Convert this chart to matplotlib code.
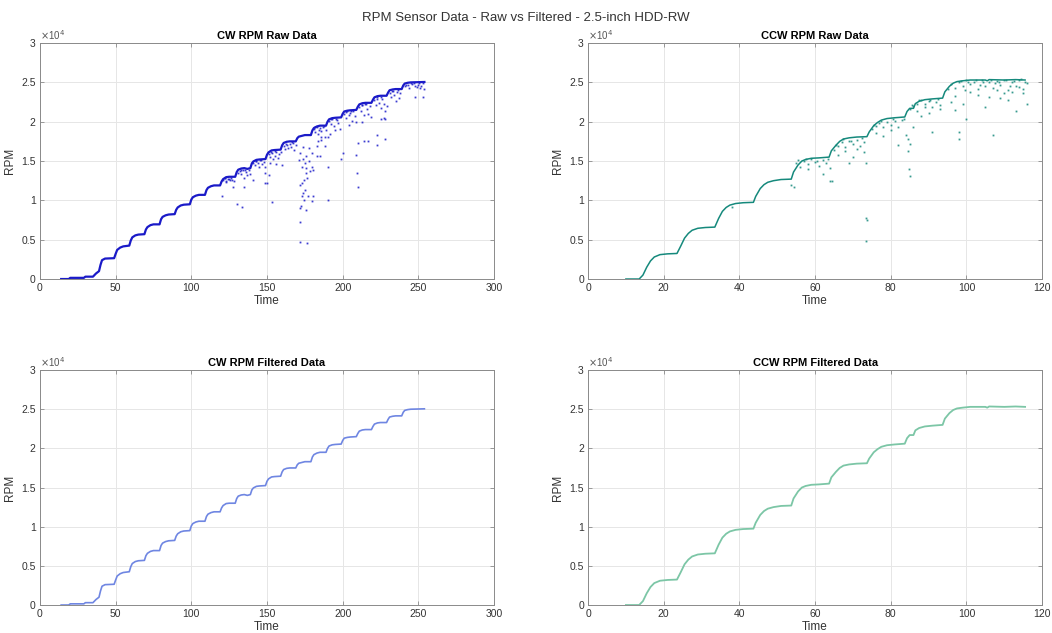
import matplotlib
matplotlib.use('Agg')
import matplotlib.pyplot as plt
import numpy as np

plt.rcParams['font.family'] = ['Liberation Sans', 'DejaVu Sans']

# CW staircase vertices (time, rpm)
cw_time = [14, 19, 20, 29, 30, 35, 37, 39, 40, 41, 43, 49,
           50, 51, 53, 55, 59, 60, 61, 63, 65, 69, 70, 71, 73, 75, 79,
           80, 81, 83, 85, 89, 90, 91, 93, 95, 99, 100, 101, 103, 105, 109,
           110, 111, 113, 115, 119, 120, 121, 123, 125, 129,
           130, 131, 133, 135, 137, 139, 140, 141, 143, 145, 149,
           150, 151, 153, 155, 159, 160, 161, 163, 165, 169,
           170, 171, 173, 175, 179, 180, 181, 183, 185, 189,
           190, 191, 193, 195, 199, 200, 201, 203, 205, 209,
           210, 211, 213, 215, 219, 220, 221, 223, 225, 229,
           230, 231, 233, 235, 239, 240, 241, 243, 245, 254]
cw_rpm = [0, 0, 150, 150, 300, 300, 700, 1000, 1800, 2400, 2600, 2650,
          3200, 3700, 4000, 4150, 4250, 4900, 5300, 5550, 5650, 5700, 6300, 6600, 6850, 6950, 6950,
          7600, 7900, 8100, 8200, 8250, 8800, 9100, 9350, 9450, 9500, 10100, 10400, 10600, 10700, 10700,
          11300, 11600, 11800, 11900, 11900, 12400, 12700, 12950, 13000, 13000,
          13600, 13900, 14050, 14100, 14000, 14100, 14700, 14950, 15150, 15200, 15250,
          15800, 16100, 16350, 16400, 16450, 17000, 17300, 17450, 17500, 17500,
          17900, 18100, 18200, 18300, 18300, 18900, 19200, 19400, 19500, 19500,
          20000, 20300, 20450, 20500, 20550, 21000, 21300, 21400, 21450, 21500,
          21900, 22200, 22350, 22400, 22400, 22800, 23100, 23250, 23300, 23300,
          23700, 24000, 24100, 24150, 24150, 24600, 24850, 24950, 25000, 25050]

# CW raw readings away from the staircase
cw_out_t = [120, 130, 133.7, 127.8, 135, 123, 125.5, 141, 148.7, 150, 151, 153, 149, 160,
            172, 172, 176.6, 172, 172.5, 176, 179.5, 180.6, 177, 173, 174, 175, 173, 174.5, 176,
            178.5, 180.6, 179.5, 173, 175, 172, 176, 179.5, 182.8, 185, 182.8, 186, 188, 190.5,
            191.6, 190, 190, 199, 200, 209, 209.7, 210, 210.4, 214, 217, 222.5, 222.5, 228, 225,
            227, 228, 248,
            121, 122, 123, 124, 126, 127, 128,
            131, 132, 133, 134, 136, 137, 138, 139, 135,
            141, 142, 143, 144, 146, 147, 148, 149, 145,
            151, 152, 153, 154, 155, 156, 157, 158, 159, 152, 156,
            161, 162, 163, 164, 165, 166, 167, 168, 169,
            181, 182, 183, 184, 185, 186, 187, 188, 189, 184, 186,
            191, 192, 193, 194, 196, 197, 198, 195,
            201, 202, 203, 204, 205, 206, 207, 208, 209, 204,
            211, 212, 213, 214, 215, 216, 217, 218, 219, 213,
            221, 222, 223, 224, 225, 226, 227, 228, 229,
            231, 232, 233, 234, 236, 237, 238, 235,
            241, 243, 244, 246, 248, 250, 251, 252, 253, 254, 249, 253,
            122.5, 125, 132.5, 135.5, 142.5, 145.5, 152.5, 155.5, 162.5, 166.5, 171, 174,
            177.5, 182, 184.5, 187.5, 192.5, 195.5, 202.5, 205.5, 212.5, 215.5, 222.5, 225.5,
            232.5, 236.5, 242, 245, 247, 250.5, 171.5, 173.5, 175.5, 178, 176.5, 174.5]
cw_out_rpm = [10500, 9600, 9100, 11650, 11650, 12300, 12600, 12600, 12200, 12200, 13260, 9800, 13500, 14500,
              7200, 4650, 4600, 9000, 9300, 8800, 9900, 10500, 10500, 10500, 10900, 11350, 12200, 12600, 13500,
              13700, 13900, 14300, 14300, 14700, 16000, 15600, 16000, 15600, 15600, 16900, 17700, 16900, 18100,
              18500, 14300, 10100, 15200, 16000, 15800, 13500, 11700, 17300, 17500, 17500, 18300, 17100, 17800, 20300,
              20500, 20300, 23200,
              12600, 12800, 12500, 12700, 12900, 12600, 12400,
              13500, 13700, 13300, 13800, 13600, 13200, 13900, 13400, 12800,
              14800, 14500, 15000, 14700, 15100, 14600, 14900, 14300, 14200,
              15900, 15500, 16000, 15200, 15700, 16200, 15400, 15900, 16200, 14800, 14600,
              16900, 16500, 17100, 16700, 17200, 16800, 17300, 16400, 17100,
              19100, 18700, 19300, 18500, 19200, 18800, 19300, 18100, 19000, 17500, 18100,
              20100, 19700, 20300, 19500, 20200, 19800, 19100, 18900,
              21000, 20500, 21300, 20800, 21100, 20100, 21300, 20700, 19900, 19600,
              21900, 21300, 22100, 20800, 22200, 21600, 21000, 22000, 20600, 19900,
              22700, 22100, 23100, 22400, 21800, 22900, 22300, 21300, 22000,
              23600, 23200, 23900, 23400, 23800, 23000, 23600, 22600,
              24500, 24700, 24300, 24800, 24500, 24700, 24300, 24600, 24900, 24200, 24400, 23200,
              12800, 12700, 13800, 13900, 15000, 15100, 16100, 16300, 17200, 17400, 15100, 16800,
              16600, 19300, 19000, 19400, 20300, 20400, 21200, 21400, 22100, 22300, 22900, 23200,
              23900, 24000, 24700, 24900, 24900, 24900, 12000, 15200, 14100, 15000, 12900, 10000]

# CCW staircase vertices (time, rpm)
ccw_time = [10, 13.5, 14.5, 15.5, 16.5, 17.5, 19, 21, 23.5,
            24.5, 25.5, 26.5, 27.5, 29, 31, 33.5,
            34.5, 35.5, 36.5, 37.5, 39, 41, 43.7,
            44.3, 45.5, 46.5, 47.5, 49, 51, 53.7,
            54.3, 55.5, 56.5, 57.5, 59, 61, 63.7,
            64.3, 65.5, 66.5, 67.5, 69, 71, 73.7,
            74.3, 75.5, 76.5, 77.5, 79, 81, 83.7,
            84.3, 85, 86, 86.5, 87.5, 89, 91, 93.7,
            94.3, 95.5, 96.5, 97.5, 99, 101, 105, 105.5, 106, 110, 113, 115.5]
ccw_rpm = [0, 0, 500, 1500, 2300, 2800, 3100, 3200, 3250,
           4200, 5200, 5800, 6200, 6450, 6550, 6600,
           7700, 8600, 9100, 9400, 9600, 9700, 9750,
           10500, 11500, 12000, 12300, 12500, 12650, 12700,
           13600, 14500, 15000, 15200, 15350, 15400, 15500,
           16300, 17000, 17500, 17800, 17950, 18050, 18100,
           18700, 19500, 19900, 20200, 20400, 20500, 20600,
           21300, 21700, 21700, 22300, 22600, 22800, 22900, 23000,
           23800, 24500, 24900, 25100, 25200, 25300, 25300, 25200, 25350, 25300, 25350, 25300]

# CCW raw readings away from the staircase
ccw_out_t = [38, 55, 56, 57, 58, 59, 60, 61, 62, 63, 64, 62, 64, 53.7, 54.5, 58, 64.5,
             65, 66, 67, 68, 69, 70, 71, 72, 73, 66, 68, 70, 71, 73, 73.5, 69, 73.5, 73.6, 73.5,
             75, 76, 77, 78, 79, 80, 81, 82, 83, 76, 78, 80, 82, 84, 84.5, 84.5, 84.7, 85, 85, 86,
             85, 86, 87, 88, 89, 90, 91, 92, 93, 87, 88, 89, 91, 90, 93,
             96, 97, 98, 99, 100, 101, 102, 103, 104, 105, 106, 107, 108, 109, 110, 111, 112,
             113, 114, 115, 116, 116, 99, 98, 98, 100, 103, 105, 107, 109, 111, 113, 97, 101,
             106, 108, 110, 112, 114, 115, 96, 97, 95,
             55.5, 57.5, 60.5, 63.5, 65.5, 67.5, 69.5, 72.5, 75.5, 77.5, 80.5, 83.5,
             85.5, 87.5, 90.5, 92.5, 98.5, 100.5, 102.5, 104.5, 106.5, 108.5, 110.5, 112.5,
             114.5, 115.5, 99.5, 103.5, 107.5, 111.5]
ccw_out_rpm = [9150, 14800, 14200, 15000, 14600, 15200, 14900, 14400, 15100, 14700, 14100, 13400, 12400, 12000, 11700, 14000, 12500,
               16400, 16900, 17400, 16800, 17600, 17200, 17700, 16900, 17400, 15800, 16300, 15500, 16500, 16100, 14700, 14700, 7750, 7550, 4800,
               19100, 19500, 19800, 19300, 20000, 19600, 20100, 19300, 20200, 18600, 18200, 19000, 17000, 18300, 17800, 16300, 14000, 13100, 17200, 19300,
               21600, 22000, 22300, 22700, 22200, 22600, 21900, 22500, 21600, 21400, 20700, 21900, 18700, 21100, 22100,
               24800, 24300, 25000, 24500, 25300, 24800, 25100, 24200, 25300, 24600, 25100, 24300, 25200, 24700, 25300, 24000, 25100,
               24500, 25300, 24200, 24900, 22300, 22200, 18700, 17800, 20300, 23400, 21900, 18300, 23000, 22700, 21300, 21500, 23800,
               23200, 24000, 23600, 23800, 24400, 23700, 22500, 23300, 24200,
               15100, 15300, 15000, 15200, 17100, 17800, 17500, 17900, 19600, 20100, 20300, 20400,
               22100, 22800, 22700, 22900, 25200, 25100, 25300, 25000, 25300, 25100, 25300, 25200,
               25400, 25100, 24000, 24700, 24900, 24600]

ytick_vals = [0, 5000, 10000, 15000, 20000, 25000, 30000]
ytick_labels = ['0', '0.5', '1', '1.5', '2', '2.5', '3']

cw_raw_color = '#1a1ac8'
ccw_raw_color = '#15897c'
cw_filt_color = '#6f86e2'
ccw_filt_color = '#7cc6a6'
text_color = '#333333'


def style_axes(ax, title, xmax, xstep):
    ax.set_xlim(0, xmax)
    ax.set_ylim(0, 30000)
    ax.set_xticks(np.arange(0, xmax + 1, xstep))
    ax.set_yticks(ytick_vals)
    ax.set_yticklabels(ytick_labels)
    ax.grid(True, color='#e6e6e6', linewidth=0.7)
    ax.set_axisbelow(True)
    ax.tick_params(direction='in', length=3, width=0.6, color='#8a8a8a',
                   labelcolor=text_color, labelsize=7.5, top=True, right=True, pad=3)
    for sp in ax.spines.values():
        sp.set_color('#8a8a8a')
        sp.set_linewidth(0.7)
    ax.set_title(title, fontsize=8, fontweight='bold', pad=3)
    ax.set_xlabel('Time', fontsize=8.5, color=text_color, labelpad=1)
    ax.set_ylabel('RPM', fontsize=8.5, color=text_color, labelpad=4)
    ax.text(0.0, 1.005, r'$\times$10$^4$', transform=ax.transAxes, fontsize=7,
            color='#555555', ha='left', va='bottom')


fig = plt.figure(figsize=(10.52, 6.33), dpi=100)
ax1 = fig.add_axes([0.038, 0.5592, 0.4316, 0.3728])
ax2 = fig.add_axes([0.559, 0.5592, 0.4316, 0.3728])
ax3 = fig.add_axes([0.038, 0.0442, 0.4316, 0.3712])
ax4 = fig.add_axes([0.559, 0.0442, 0.4316, 0.3712])

ax1.plot(cw_time, cw_rpm, color=cw_raw_color, linewidth=1.6)
ax1.plot(cw_out_t, cw_out_rpm, 's', color=cw_raw_color, markersize=1.3,
         markeredgewidth=0, alpha=0.85)
style_axes(ax1, 'CW RPM Raw Data', 300, 50)

ax2.plot(ccw_time, ccw_rpm, color=ccw_raw_color, linewidth=1.1)
ax2.plot(ccw_out_t, ccw_out_rpm, 's', color=ccw_raw_color, markersize=1.3,
         markeredgewidth=0, alpha=0.85)
style_axes(ax2, 'CCW RPM Raw Data', 120, 20)

ax3.plot(cw_time, cw_rpm, color=cw_filt_color, linewidth=1.2)
style_axes(ax3, 'CW RPM Filtered Data', 300, 50)

ax4.plot(ccw_time, ccw_rpm, color=ccw_filt_color, linewidth=1.3)
style_axes(ax4, 'CCW RPM Filtered Data', 120, 20)

fig.text(0.5, 0.972, 'RPM Sensor Data - Raw vs Filtered - 2.5-inch HDD-RW',
         ha='center', va='center', fontsize=9.5, color=text_color)

fig.savefig('out.png', dpi=100)
